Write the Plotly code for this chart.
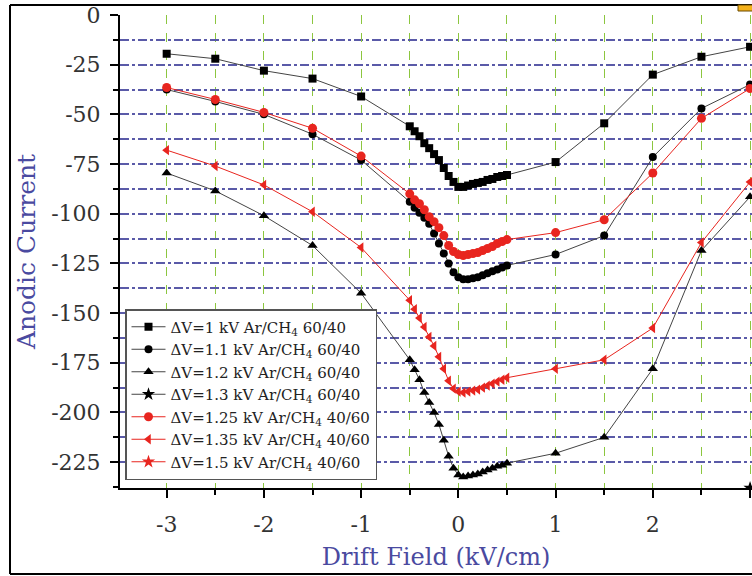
import plotly.graph_objects as go

# ---------------- data ----------------
x_vals = [-3, -2.5, -2, -1.5, -1,
          -0.5, -0.45, -0.4, -0.35, -0.3, -0.25, -0.2, -0.15, -0.1, -0.05,
          0, 0.05, 0.1, 0.15, 0.2, 0.25, 0.3, 0.35, 0.4, 0.45, 0.5,
          1, 1.5, 2, 2.5, 3]

s_1_0 = [-19.5, -22, -28, -32, -41,
         -56, -58.5, -61, -64.5, -67, -70, -73, -77, -81, -84,
         -86.5, -86.5, -85.8, -85, -84.5, -84, -83, -82.5, -81.5, -81, -80.5,
         -74, -54.5, -30, -21, -16]
s_1_1 = [-37.5, -43.5, -50, -60, -73,
         -94, -97, -99.5, -102, -105, -110, -115, -120, -125, -129.5,
         -132, -133, -133, -132.5, -132, -131, -130, -129, -128, -127, -126,
         -120.5, -111, -71.5, -47, -35]
s_1_2 = [-79.5, -88.5, -101, -116, -140,
         -173.5, -178.5, -183.5, -190, -195, -200, -206, -214, -222, -228,
         -231.5, -232.5, -232, -231.5, -231, -230, -229, -228, -227, -226.5, -225.5,
         -220.5, -212.5, -178, -118.5, -91.5]
x_1_3 = [3]
s_1_3 = [-238]
s_1_25 = [-36.5, -42.5, -49, -57, -71,
          -90, -93, -95, -98, -101.5, -104, -107, -111, -116, -119,
          -120.5, -121, -120.5, -120, -119.5, -118.5, -117.5, -116.5, -115, -114, -113,
          -109.5, -103, -79.5, -52, -37]
s_1_35 = [-68, -76, -85.5, -99, -117,
          -143.5, -148, -152.5, -157, -162, -166.5, -172, -178, -184, -188,
          -189.5, -190, -189.5, -189, -188.5, -187.5, -186.5, -185.5, -184.5, -183.5, -182.5,
          -178, -173.5, -157.5, -114.5, -84]
x_1_5 = [3]
s_1_5 = [-260]

names = ["ΔV=1 kV Ar/CH<sub>4</sub> 60/40",
         "ΔV=1.1 kV Ar/CH<sub>4</sub> 60/40",
         "ΔV=1.2 kV Ar/CH<sub>4</sub> 60/40",
         "ΔV=1.3 kV Ar/CH<sub>4</sub> 60/40",
         "ΔV=1.25 kV Ar/CH<sub>4</sub> 40/60",
         "ΔV=1.35 kV Ar/CH<sub>4</sub> 40/60",
         "ΔV=1.5 kV Ar/CH<sub>4</sub> 40/60"]

x_tickvals = [-3, -2, -1, 0, 1, 2, 3]
x_ticktext = ["-3", "-2", "-1", "0", "1", "2", "3"]
x_minorvals = [-3.5, -2.5, -1.5, -0.5, 0.5, 1.5, 2.5]
y_tickvals = [0, -25, -50, -75, -100, -125, -150, -175, -200, -225]
y_ticktext = ["0", "-25", "-50", "-75", "-100", "-125", "-150", "-175", "-200", "-225"]
y_minorvals = [-12.5, -37.5, -62.5, -87.5, -112.5, -137.5, -162.5, -187.5, -212.5, -237.5]

# ---------------- figure ----------------
BLACK_LINE = "#444444"
RED = "#e8251f"
FONT = "DejaVu Serif"

series = [
    (x_vals, s_1_0, names[0], "square", "black", BLACK_LINE, 8),
    (x_vals, s_1_1, names[1], "circle", "black", BLACK_LINE, 8),
    (x_vals, s_1_2, names[2], "triangle-up", "black", BLACK_LINE, 9),
    (x_1_3, s_1_3, names[3], "star", "black", BLACK_LINE, 10),
    (x_vals, s_1_25, names[4], "circle", RED, RED, 9),
    (x_vals, s_1_35, names[5], "triangle-left", RED, RED, 9),
    (x_1_5, s_1_5, names[6], "star", RED, RED, 10),
]

fig = go.Figure()
for xs, ys, nm, sym, mc, lc, ms in series:
    fig.add_trace(go.Scatter(
        x=xs, y=ys, name=nm, mode="lines+markers",
        line=dict(color=lc, width=1),
        marker=dict(symbol=sym, color=mc, size=ms, line=dict(width=0)),
    ))

W, H = 752, 576
ML, MR, MT, MB = 120, 0, 15, 88
PW, PH = W - ML - MR, H - MT - MB


def px_x(p):
    return (p - ML) / PW


def px_y(p):
    return (H - MB - p) / PH


shapes = [
    dict(type="line", xref="paper", yref="paper", x0=px_x(10), x1=px_x(10),
         y0=px_y(574), y1=px_y(5), line=dict(color="black", width=2)),
    dict(type="line", xref="paper", yref="paper", x0=px_x(10), x1=px_x(752),
         y0=px_y(5), y1=px_y(5), line=dict(color="black", width=2)),
    dict(type="line", xref="paper", yref="paper", x0=px_x(10), x1=px_x(752),
         y0=px_y(574), y1=px_y(574), line=dict(color="black", width=2)),
    dict(type="rect", xref="paper", yref="paper", x0=px_x(738), x1=px_x(753),
         y0=px_y(11), y1=px_y(5), fillcolor="#f5b21a",
         line=dict(color="#6b4a00", width=1)),
]

GRID_H = "#5a5aa8"
GRID_V = "#8cc63f"

fig.update_layout(
    width=W, height=H,
    margin=dict(l=ML, r=MR, t=MT, b=MB, pad=0, autoexpand=False),
    paper_bgcolor="white", plot_bgcolor="white",
    font=dict(family=FONT, color="#222222"),
    shapes=shapes,
    showlegend=True,
    legend=dict(
        x=px_x(125), y=px_y(480), xanchor="left", yanchor="bottom",
        bgcolor="white", bordercolor="#555555", borderwidth=1.5,
        font=dict(family=FONT, size=15, color="#222222"),
        tracegroupgap=0, itemwidth=34,
    ),
    xaxis=dict(
        range=[-3.48, 3.02], showline=True, linecolor="black", linewidth=2,
        automargin=False,
        tickmode="array", tickvals=x_tickvals, ticktext=x_ticktext,
        ticks="outside", ticklen=8, tickwidth=2, tickcolor="black",
        tickfont=dict(family=FONT, size=22, color="#333333"),
        ticklabelstandoff=8,
        showgrid=True, gridcolor=GRID_V, griddash="dash", gridwidth=1.3,
        zeroline=False,
        minor=dict(tickmode="array", tickvals=x_minorvals, ticks="outside",
                   ticklen=5, tickwidth=2, tickcolor="black",
                   showgrid=True, gridcolor=GRID_V, griddash="dash", gridwidth=1.3),
        title=dict(text="Drift Field (kV/cm)", standoff=12,
                   font=dict(family=FONT, size=24, color="#4a4aa0")),
    ),
    yaxis=dict(
        range=[-238, 0], showline=True, linecolor="black", linewidth=2,
        automargin=False,
        tickmode="array", tickvals=y_tickvals, ticktext=y_ticktext,
        ticks="outside", ticklen=8, tickwidth=2, tickcolor="black",
        tickfont=dict(family=FONT, size=22, color="#333333"),
        ticklabelstandoff=5,
        showgrid=True, gridcolor=GRID_H, griddash="dashdot", gridwidth=1.6,
        zeroline=False,
        minor=dict(tickmode="array", tickvals=y_minorvals, ticks="outside",
                   ticklen=5, tickwidth=2, tickcolor="black",
                   showgrid=True, gridcolor=GRID_H, griddash="dashdot", gridwidth=1.6),
        title=dict(text="Anodic Current", standoff=8,
                   font=dict(family=FONT, size=25, color="#4a4aa0")),
    ),
)

fig.write_html(
    "out.html",
    config={"displayModeBar": False},
    post_script="document.body.style.margin='0';document.body.style.padding='0';",
)
